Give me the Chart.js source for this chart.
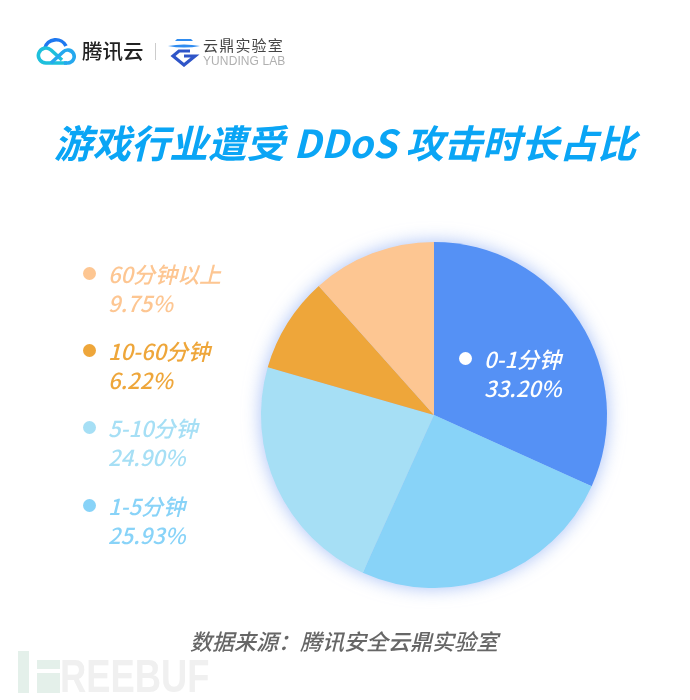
<!DOCTYPE html>
<html>
<head>
<meta charset="utf-8">
<script src="https://cdn.jsdelivr.net/npm/chart.js@4"></script>
<style>
html,body{margin:0;padding:0;background:#fff;}
#tudo{position:relative;width:690px;height:700px;overflow:hidden;font-family:"Noto Sans CJK SC",sans-serif;}
#tudo div,#tudo svg{position:absolute;}
#grafico{position:absolute;left:0;top:0;width:690px;height:700px;filter:drop-shadow(0 0 9px rgba(110,150,240,.6));}
#titulo{left:0;width:690px;top:113px;text-align:center;font:italic 700 38.5px/56px "Noto Sans CJK SC";color:#0aa5f5;white-space:nowrap;}
.rotulo{font:italic 500 22px/29px "Noto Sans CJK SC","Noto Sans";white-space:nowrap;}
.bolinha{width:13px;height:13px;border-radius:50%;}
#fonte{left:0;width:688px;top:625px;text-align:center;font:italic 500 22px/30px "Noto Sans CJK SC";color:#666;}
</style>
</head>
<body>
<div id="tudo">
  <canvas id="grafico" width="690" height="700"></canvas>

  <!-- logos -->
  <svg style="left:36px;top:36px" width="42" height="30" viewBox="0 0 42 30">
    <path d="M9 12 A11 10 0 0 1 30 10" fill="none" stroke="#1e78f0" stroke-width="3.6"/>
    <path d="M31 27 H10 A7.5 7.5 0 1 1 15 14 L26 24" fill="none" stroke="#1ec0dc" stroke-width="3.6"/>
    <path d="M15 27 L27 16 A6.5 6.5 0 1 1 32 27 H28" fill="none" stroke="#25a8ee" stroke-width="3.6"/>
  </svg>
  <div style="left:82px;top:35px;font:500 20.5px/30px 'Noto Sans CJK SC';color:#222">腾讯云</div>
  <div style="left:155px;top:43px;width:1px;height:17px;background:#ccc"></div>
  <svg style="left:168px;top:37px" width="34" height="30" viewBox="0 0 34 30">
    <path d="M9 2 H23 L25 4 H7 Z" fill="#2f8cf0"/>
    <path d="M0 9 Q16 6 32 9 Q16 12 0 9 Z" fill="#2f8cf0"/>
    <path d="M22 14 H11 L5 19 L16 28 L27 19 H16" fill="none" stroke="#2f55c8" stroke-width="3.2"/>
  </svg>
  <div style="left:203px;top:34px;font:400 15px/22px 'Noto Sans CJK SC';color:#444;letter-spacing:1.2px">云鼎实验室</div>
  <div style="left:203px;top:54px;font:400 12px/15px 'Liberation Sans';color:#b0b0b0;letter-spacing:.1px">YUNDING LAB</div>

  <div id="titulo">游戏行业遭受 DDoS 攻击时长占比</div>
  <div id="legenda"></div>
  <div id="fonte">数据来源：腾讯安全云鼎实验室</div>

  <!-- marca d'agua -->
  <div style="left:18px;top:651px;width:11px;height:42px;background:#e4f0ea"></div>
  <div style="left:37px;top:660px;width:23px;height:9px;background:#e4f0ea"></div>
  <div style="left:37px;top:673px;width:23px;height:20px;background:#e4f0ea"></div>
  <div style="left:60px;top:651px;font:700 46px/50px 'Liberation Sans';color:#f0f0f0;transform:scaleX(.79);transform-origin:left top">REEBUF</div>
</div>

<script>
// categorias e textos como aparecem na figura
const categorias = ['0-1分钟', '1-5分钟', '5-10分钟', '10-60分钟', '60分钟以上'];
const percentuais = ['33.20%', '25.93%', '24.90%', '6.22%', '9.75%'];
// fatias medidas no desenho (os angulos da figura nao batem com os percentuais impressos)
const fatias = [31.75, 25, 22.7, 8.95, 11.6];
const cores = ['#5591f5', '#88d3f8', '#a6dff5', '#eea63a', '#fdc692'];
const coresTexto = ['#ffffff', '#88d3f8', '#a6dff5', '#eea63a', '#fdc692'];
// posicao de cada rotulo: [x da bolinha, y da primeira linha]
const posicoes = [[459, 344], [83, 491], [83, 413], [83, 336], [83, 259]];

const legenda = document.getElementById('legenda');
categorias.forEach((cat, i) => {
    const [x, y] = posicoes[i];
    legenda.innerHTML +=
        `<div class="bolinha" style="left:${x}px;top:${y + 8}px;background:${coresTexto[i]}"></div>` +
        `<div class="rotulo" style="left:${x + 25}px;top:${y}px;color:${coresTexto[i]}">${cat}<br>${percentuais[i]}</div>`;
});

new Chart(document.getElementById('grafico'), {
    type: 'pie',
    data: {
        labels: categorias,
        datasets: [{
            data: fatias,
            backgroundColor: cores,
            borderWidth: 0
        }]
    },
    options: {
        responsive: false,
        animation: false,
        // area reservada para o circulo ficar em (434,415) com raio 173
        layout: { padding: { left: 261, right: 83, top: 242, bottom: 112 } },
        plugins: { legend: { display: false }, tooltip: { enabled: false } }
    }
});
</script>
</body>
</html>
